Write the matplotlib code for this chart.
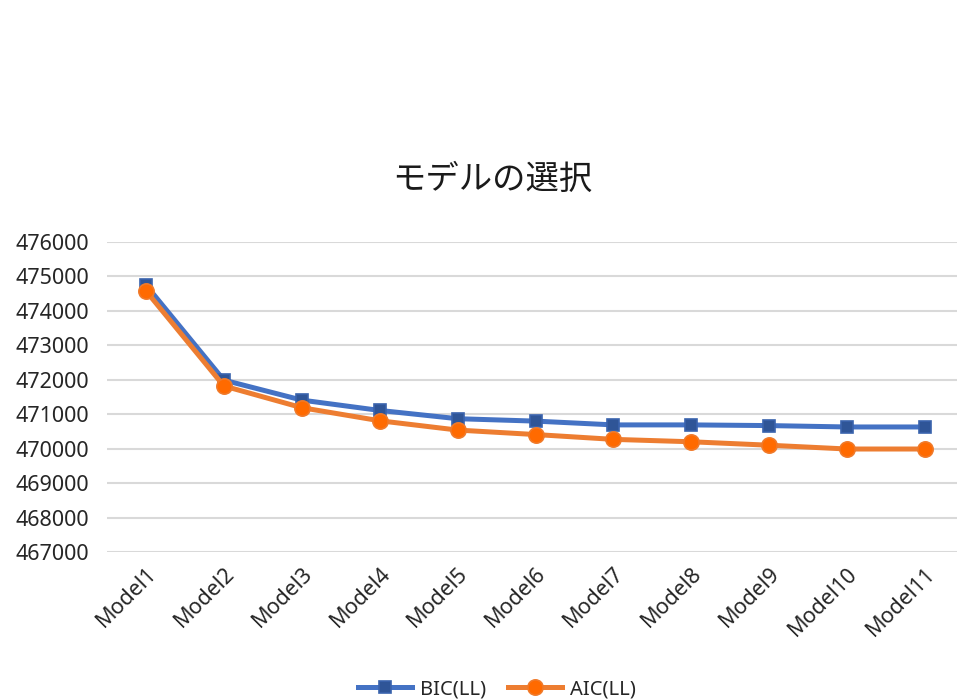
import matplotlib
matplotlib.use("Agg")
import matplotlib.pyplot as plt

plt.rcParams['font.family'] = ['Noto Sans', 'Noto Sans CJK JP', 'DejaVu Sans']

categories = ["Model1", "Model2", "Model3", "Model4", "Model5", "Model6",
              "Model7", "Model8", "Model9", "Model10", "Model11"]
bic = [474750, 471990, 471410, 471110, 470870, 470800, 470690, 470690, 470670, 470630, 470630]
aic = [474580, 471820, 471190, 470810, 470540, 470410, 470270, 470200, 470100, 469990, 469990]
yticks = [467000, 468000, 469000, 470000, 471000, 472000, 473000, 474000, 475000, 476000]

fig = plt.figure(figsize=(9.57, 7.0), dpi=100)
ax = fig.add_axes([107/957, (700-552)/700, (957-107)/957, (552-242)/700])

x = list(range(len(categories)))
ax.plot(x, bic, color="#4472C4", lw=3.6, marker="s", markersize=9,
        markerfacecolor="#2F5597", markeredgecolor="#3A63AD", markeredgewidth=1.2,
        label="BIC(LL)", zorder=3)
ax.plot(x, aic, color="#ED7D31", lw=3.6, marker="o", markersize=11,
        markerfacecolor="#FF6A00", markeredgecolor="#F07A2A", markeredgewidth=1.2,
        label="AIC(LL)", zorder=4)

txt = "#262626"
ax.set_xlim(-0.5, 10.41)
ax.set_ylim(467000, 476000)
ax.set_yticks(yticks)
ax.set_yticklabels([str(v) for v in yticks], fontsize=15.5, color=txt)
ax.set_xticks(x)
ax.set_xticklabels(categories, rotation=45, ha="right", rotation_mode="anchor",
                   fontsize=15.5, color=txt)
ax.tick_params(axis="both", length=0)
ax.tick_params(axis="y", pad=13)
ax.tick_params(axis="x", pad=8)
ax.grid(axis="y", color="#D9D9D9", lw=1.5)
ax.set_axisbelow(True)
for s in ax.spines.values():
    s.set_visible(False)

fig.text(0.514, 1 - 179/700, "モデルの選択", ha="center", va="center",
         fontsize=24, color="#1a1a1a", family=['Noto Sans CJK JP', 'DejaVu Sans'])

fig.legend(loc="center", bbox_to_anchor=(0.519, 1 - 689/700), ncol=2,
           frameon=False, fontsize=14.5, handlelength=2.7, handletextpad=0.36,
           columnspacing=1.1, labelcolor=txt)

fig.savefig("out.png", dpi=100)
